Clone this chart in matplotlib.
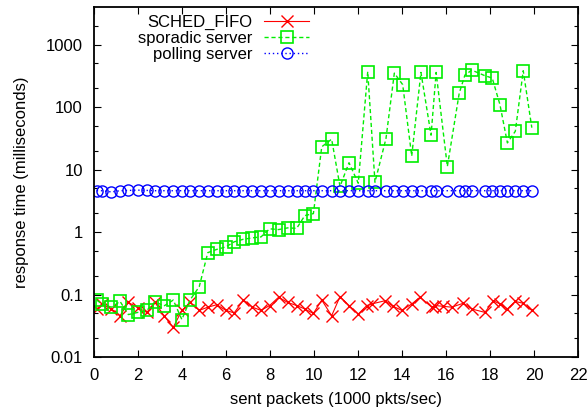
import matplotlib
matplotlib.use('Agg')
import matplotlib.pyplot as plt
from matplotlib.ticker import LogLocator, FuncFormatter, NullFormatter, MultipleLocator

plt.rcParams['font.family'] = ['Liberation Sans', 'DejaVu Sans']
plt.rcParams['font.size'] = 12

# shared measured x (1000 pkts/sec) for sporadic / polling runs
x = [0.12, 0.35, 0.79, 1.18, 1.56, 1.99, 2.40, 2.77, 3.18, 3.60, 3.99, 4.36, 4.78,
     5.17, 5.58, 5.99, 6.37, 6.79, 7.20, 7.59, 7.98, 8.39, 8.80, 9.21, 9.58, 9.97,
     10.35, 10.80, 11.18, 11.59, 12.01, 12.44, 12.77, 13.27, 13.65, 14.03, 14.44,
     14.86, 15.32, 15.55, 16.06, 16.60, 16.86, 17.17, 17.77, 18.10, 18.45, 18.79,
     19.15, 19.51, 19.90]

sporadic = [0.082, 0.071, 0.063, 0.078, 0.048, 0.052, 0.056, 0.077, 0.066, 0.082,
            0.040, 0.082, 0.134, 0.47, 0.53, 0.58, 0.70, 0.77, 0.81, 0.84, 1.13,
            1.10, 1.17, 1.15, 1.84, 1.98, 23.2, 30.7, 5.4, 12.9, 6.06, 369, 6.29,
            31.4, 350, 229, 16.5, 359, 35.6, 359, 11.2, 167, 326, 391, 318, 292,
            110, 26.8, 41.1, 382, 46.9]

polling = [4.6, 4.6, 4.4, 4.6, 4.65, 4.7, 4.65, 4.6, 4.6, 4.6, 4.6, 4.6, 4.6,
           4.6, 4.6, 4.6, 4.6, 4.6, 4.6, 4.6, 4.6, 4.6, 4.6, 4.6, 4.6, 4.6,
           4.6, 4.6, 4.6, 4.6, 4.6, 4.6, 4.6, 4.6, 4.6, 4.6, 4.6, 4.6, 4.6, 4.6,
           4.6, 4.6, 4.6, 4.6, 4.6, 4.6, 4.6, 4.6, 4.6, 4.6, 4.6]

x_fifo = [0.12, 0.35, 0.79, 1.18, 1.56, 1.99, 2.40, 2.77, 3.18, 3.60, 3.99, 4.36, 4.78,
          5.17, 5.58, 5.99, 6.37, 6.79, 7.20, 7.59, 7.98, 8.39, 8.80, 9.21, 9.58, 9.97,
          10.35, 10.80, 11.18, 11.59, 12.01, 12.40, 12.62, 13.23, 13.60, 13.99, 14.44,
          14.82, 15.35, 15.50, 15.88, 16.26, 16.79, 17.17, 17.77, 18.15, 18.45, 18.79,
          19.14, 19.49, 19.90]
fifo = [0.059, 0.071, 0.059, 0.046, 0.075, 0.062, 0.052, 0.075, 0.046, 0.030,
        0.056, 0.075, 0.056, 0.063, 0.069, 0.056, 0.051, 0.082, 0.063, 0.056,
        0.067, 0.091, 0.075, 0.067, 0.059, 0.050, 0.082, 0.046, 0.093, 0.067,
        0.049, 0.067, 0.071, 0.080, 0.065, 0.056, 0.071, 0.091, 0.063, 0.067,
        0.065, 0.063, 0.073, 0.059, 0.052, 0.080, 0.071, 0.059, 0.078, 0.073,
        0.056]

fig = plt.figure(figsize=(5.88, 4.11), dpi=100)
ax = fig.add_axes([0.160, 0.131, 0.823, 0.852])

ax.plot(x_fifo, fifo, color='#ff0000', lw=0.8, marker='x', ms=8, mew=1.0,
        label='SCHED_FIFO')
ax.plot(x, sporadic, color='#00ee00', lw=1.0, ls=(0, (3, 2)), marker='s', ms=8.5,
        mew=1.2, mfc='none', label='sporadic server')
ax.plot(x, polling, color='#0000ff', lw=1.0, ls=(0, (1, 2)), marker='o', ms=8,
        mew=1.0, mfc='none', label='polling server')

ax.set_yscale('log')
ax.set_xlim(0, 22)
ax.set_ylim(0.01, 4000)
ax.xaxis.set_major_locator(MultipleLocator(2))
ax.yaxis.set_major_locator(LogLocator(base=10, numticks=20))
ax.yaxis.set_minor_locator(LogLocator(base=10, subs=(2, 5), numticks=20))
ax.yaxis.set_major_formatter(FuncFormatter(lambda v, p: '%g' % v))
ax.yaxis.set_minor_formatter(NullFormatter())
ax.tick_params(which='both', direction='in', top=True, right=True, width=0.8)
ax.tick_params(which='major', length=5, pad=8)
ax.tick_params(which='minor', length=3)
for s in ax.spines.values():
    s.set_linewidth(1.3)

ax.set_xlabel('sent packets (1000 pkts/sec)', labelpad=6)
ax.set_ylabel('response time (milliseconds)', labelpad=12)

# gnuplot-style key: right-justified text, sample on the right
ax.legend(loc='upper right', bbox_to_anchor=(0.452, 0.988), frameon=False,
          markerfirst=False, numpoints=1, handlelength=2.7, handletextpad=0.7,
          labelspacing=0.08, borderaxespad=0, borderpad=0.2)

fig.savefig('out.png', dpi=100)
